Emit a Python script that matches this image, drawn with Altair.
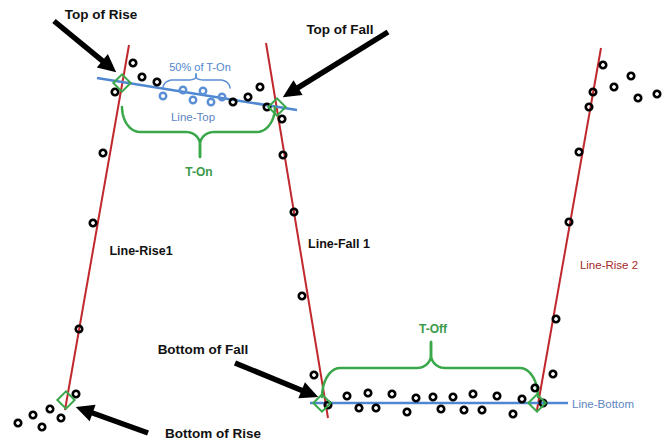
import altair as alt
import numpy as np
import pandas as pd

# ---------------- data (pixel-like units) ----------------
X_DOM = [8, 662]
Y_DOM = [8, 440]

black_x = [133, 142, 157, 115, 233, 248, 260, 267, 282, 103, 283,
           93, 79, 76,
           50, 33, 18, 42, 61,
           294, 302, 314,
           328, 347, 368, 359, 376, 392, 407, 416, 433, 441, 453, 464, 473, 482, 497, 513, 522, 535, 543, 553, 556,
           569, 579, 589, 593, 603, 614, 631, 638, 657]
black_y = [63, 77, 82, 92, 102, 97, 87, 107, 119, 153, 155,
           223, 329, 394,
           409, 415, 423, 427, 418,
           212, 296, 375,
           405, 396, 393, 408, 408, 394, 412, 398, 397, 409, 397, 410, 394, 410, 396, 414, 399, 388, 403, 374, 319,
           222, 152, 107, 92, 65, 87, 76, 98, 94]

blue_x = [163, 183, 193, 203, 211, 222]
blue_y = [96, 90, 100, 91, 102, 97]

# fitted lines: name, x1, y1, x2, y2, colour, width
line_names = ["Rise1", "Fall1", "Rise2", "Top", "Bottom"]
line_x1 = [129, 266, 601, 97, 310]
line_y1 = [45, 43, 48, 78, 403]
line_x2 = [65, 328, 537, 297, 568]
line_y2 = [410, 418, 410, 110, 403]
line_col = ["#c0282d", "#c0282d", "#c0282d", "#4f88d0", "#4f88d0"]
line_w = [2, 2, 2, 2.5, 2.5]

diamond_x = [122, 277, 66, 322, 537]
diamond_y = [83, 107, 400, 403, 403]

# arrows: tail -> tip
arrow_x1 = [54, 388, 235, 148]
arrow_y1 = [21, 32, 363, 433]
arrow_x2 = [116, 283, 318, 76]
arrow_y2 = [72, 97, 397, 407]

# braces: x_left, x_right, y_end, y_body, y_tip, x_tip, colour
brace_xl = [163, 122, 322]
brace_xr = [230, 275, 538]
brace_yend = [88, 107, 397]
brace_ybody = [80, 132, 368]
brace_ytip = [74, 157, 342]
brace_xtip = [196, 200, 431]
brace_col = ["#5b8fd5", "#3aa84a", "#3aa84a"]
brace_w = [1.5, 2.5, 2.5]

labels = ["Top of Rise", "Top of Fall", "Bottom of Fall", "Bottom of Rise",
          "Line-Rise1", "Line-Fall 1",
          "T-On", "T-Off",
          "50% of T-On", "Line-Top", "Line-Bottom",
          "Line-Rise 2"]
label_x = [101, 340, 203, 213, 141, 339, 199, 433, 200, 193, 603, 609]
label_y = [15, 30, 350, 434, 251, 244, 172, 329, 68, 118, 405, 266]
label_style = ["head", "head", "head", "head", "bold", "bold",
               "green", "green", "blue_s", "blue", "blue", "red"]

styles = {
    "head": dict(fontSize=13.5, fontWeight="bold", color="#111111"),
    "bold": dict(fontSize=12.5, fontWeight="bold", color="#111111"),
    "green": dict(fontSize=12, fontWeight="bold", color="#3a9a4a"),
    "blue_s": dict(fontSize=11, fontWeight="normal", color="#4f86cc"),
    "blue": dict(fontSize=11.5, fontWeight="normal", color="#5c85c2"),
    "red": dict(fontSize=11.5, fontWeight="normal", color="#a52a2a"),
}

# ---------------- helpers ----------------
W, H = X_DOM[1] - X_DOM[0], Y_DOM[1] - Y_DOM[0]
xs = alt.Scale(domain=X_DOM, nice=False, zero=False)
ys = alt.Scale(domain=Y_DOM, nice=False, zero=False, reverse=True)


def X(f, **kw):
    return alt.X(f, type="quantitative", scale=xs, axis=None, **kw)


def Y(f, **kw):
    return alt.Y(f, type="quantitative", scale=ys, axis=None, **kw)


def brace_half(xa, xm, yend, ybody, ytip, n=12):
    d = 1 if xm > xa else -1
    span = abs(xm - xa)
    r1 = min(18, span * 0.3)
    r2 = min(14, span * 0.25)
    ycusp = ybody + (ytip - ybody) * 0.5
    th = np.linspace(0, np.pi / 2, n)
    px = list(xa + d * (r1 - r1 * np.cos(th)))
    py = list(yend + (ybody - yend) * np.sin(th))
    px += list(xm - d * r2 + d * r2 * np.sin(th))
    py += list(ycusp - (ycusp - ybody) * np.cos(th))
    px.append(xm)
    py.append(ytip)
    return px, py


rows = []
for i in range(len(brace_xl)):
    for side, xa in (("L", brace_xl[i]), ("R", brace_xr[i])):
        px, py = brace_half(xa, brace_xtip[i], brace_yend[i], brace_ybody[i], brace_ytip[i])
        for k, (a, b) in enumerate(zip(px, py)):
            rows.append(dict(id=f"{i}{side}", order=k, x=a, y=b, col=brace_col[i], w=brace_w[i]))
brace_df = pd.DataFrame(rows)

lines_df = pd.DataFrame(dict(name=line_names, x=line_x1, y=line_y1, x2=line_x2, y2=line_y2,
                             col=line_col, w=line_w))

arr = pd.DataFrame(dict(x=arrow_x1, y=arrow_y1, x2=arrow_x2, y2=arrow_y2))
dx = arr.x2 - arr.x
dy = arr.y2 - arr.y
L = np.hypot(dx, dy)
HEAD = 10
arr["hx"] = arr.x2 - dx / L * HEAD
arr["hy"] = arr.y2 - dy / L * HEAD
arr["sx"] = arr.x2 - dx / L * (HEAD + 4)
arr["sy"] = arr.y2 - dy / L * (HEAD + 4)
arr["angle"] = (np.degrees(np.arctan2(dx, -dy)) + 360) % 360

layers = []

# fitted lines
for w in sorted(set(line_w)):
    sub = lines_df[lines_df.w == w]
    layers.append(alt.Chart(sub).mark_rule(strokeWidth=w).encode(
        x=X("x"), y=Y("y"), x2="x2", y2="y2", color=alt.Color("col:N", scale=None)))

# braces
for i in range(len(brace_xl)):
    sub = brace_df[brace_df.id.str.startswith(str(i))]
    layers.append(alt.Chart(sub).mark_line(strokeWidth=brace_w[i], color=brace_col[i],
                                           strokeCap="round", strokeJoin="round").encode(
        x=X("x"), y=Y("y"), detail="id:N", order="order:Q"))

# circles
layers.append(alt.Chart(pd.DataFrame(dict(x=black_x, y=black_y))).mark_point(
    shape="circle", size=42, strokeWidth=2.6, color="#000000", filled=False, opacity=1).encode(
    x=X("x"), y=Y("y")))
layers.append(alt.Chart(pd.DataFrame(dict(x=blue_x, y=blue_y))).mark_point(
    shape="circle", size=42, strokeWidth=2.4, color="#5b8fd5", filled=False, opacity=1).encode(
    x=X("x"), y=Y("y")))

# diamonds
layers.append(alt.Chart(pd.DataFrame(dict(x=diamond_x, y=diamond_y))).mark_point(
    shape="diamond", size=300, strokeWidth=2, color="#3aa84a", filled=False, opacity=1).encode(
    x=X("x"), y=Y("y")))

# arrows: shaft + head
layers.append(alt.Chart(arr).mark_rule(strokeWidth=5.5, color="#000000").encode(
    x=X("x"), y=Y("y"), x2="sx", y2="sy"))
layers.append(alt.Chart(arr).mark_point(
    shape="M0,-1L0.85,0.75L-0.85,0.75Z", size=420, filled=True, color="#000000", opacity=1).encode(
    x=X("hx"), y=Y("hy"), angle=alt.Angle("angle:Q", scale=None)))

# labels
lab = pd.DataFrame(dict(text=labels, x=label_x, y=label_y, style=label_style))
for st, kw in styles.items():
    sub = lab[lab["style"] == st]
    layers.append(alt.Chart(sub).mark_text(font="Liberation Sans", align="center",
                                           baseline="middle", **kw).encode(
        x=X("x"), y=Y("y"), text="text:N"))

chart = alt.layer(*layers).properties(
    width=W, height=H, padding=0, autosize=alt.AutoSizeParams(type="none"),
    background="#ffffff"
).configure_view(strokeWidth=0)

chart.save("out.html", embed_options={"renderer": "svg", "actions": False})
